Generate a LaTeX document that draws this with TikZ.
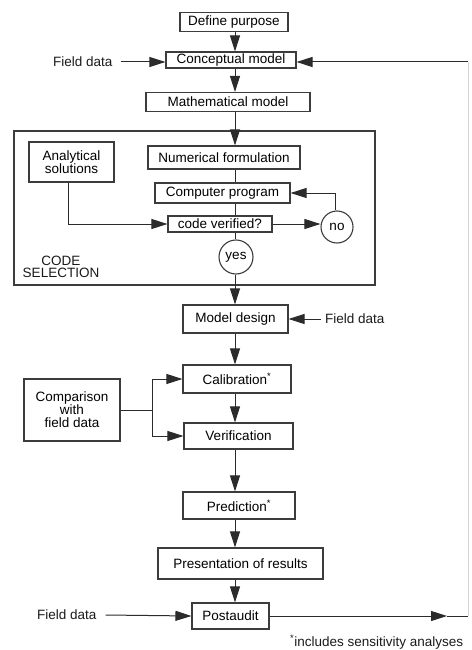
\documentclass[tikz,border=0pt]{standalone}
\usepackage{fontspec}
\setsansfont{Liberation Sans}
\usepackage{xcolor}
\usepackage{tikz}
\usetikzlibrary{shapes.geometric, arrows.meta, positioning, calc}
\definecolor{flowInk}{HTML}{1A1A1A}
\definecolor{flowLine}{HTML}{2B2B2B}
\definecolor{flowFaint}{HTML}{D4D4D4}
\tikzset{
  flow/box/.style      = {rectangle, draw=flowInk!85, line width=1.1pt, fill=white, align=center,
                          inner sep=1pt, font=\fontsize{13.5}{15}\selectfont\sffamily},
  flow/circ/.style     = {circle, draw=flowInk!85, line width=1.1pt, fill=white, inner sep=0pt,
                          font=\fontsize{13.5}{15}\selectfont\sffamily},
  flow/frame/.style    = {rectangle, draw=flowInk!85, line width=1.1pt, inner sep=0pt},
  flow/label/.style    = {font=\fontsize{13.5}{15}\selectfont\sffamily, inner sep=0pt, text=flowInk},
  flow/arrow/.style    = {-{Triangle[length=16pt,width=10pt]}, line width=1pt, draw=flowLine},
  flow/line/.style     = {line width=1pt, draw=flowLine},
  flow/faint/.style    = {line width=1pt, draw=flowFaint},
}
\begin{document}
\begin{tikzpicture}[x=1pt, y=-1pt, every node/.style={font=\sffamily}]
      \useasboundingbox (0,0) rectangle (471,650);
      \coordinate (spine) at (235,0);
      % code selection frame first, boxes sit on top of it
      \node[flow/frame, minimum width=361pt, minimum height=154pt] (codesel) at (194.5,208) {};
      \node[flow/label, align=center] (codelbl) at (61,267) {CODE\\[-3pt]SELECTION};
      % main sequence
      \node[flow/box, minimum width=108pt, minimum height=19pt] (purpose) at (234,22) {Define purpose};
      \node[flow/box, minimum width=130pt, minimum height=16pt] (concept) at (231,60) {Conceptual model};
      \node[flow/box, minimum width=164pt, minimum height=19pt] (math) at (228,102) {Mathematical model};
      \node[flow/box, minimum width=152pt, minimum height=23pt] (numer) at (224,157.5) {Numerical formulation};
      \node[flow/box, minimum width=85pt, minimum height=40pt] (analyt) at (71.5,162)
            {Analytical\\[-2pt]solutions};
      \node[flow/box, minimum width=135pt, minimum height=20pt] (comp) at (222.5,193) {Computer program};
      \node[flow/box, minimum width=104pt, minimum height=16pt] (check) at (220,224) {code verified?};
      \node[flow/circ, minimum size=32pt] (no) at (337,227) {no};
      \node[flow/circ, minimum size=34pt] (yes) at (236,257) {yes};
      \node[flow/box, minimum width=105pt, minimum height=28pt] (design) at (235.5,319) {Model design};
      \node[flow/box, minimum width=108pt, minimum height=28pt] (calib) at (237,379)
            {Calibration\textsuperscript{*}};
      \node[flow/box, minimum width=109pt, minimum height=26pt] (verif) at (238.5,436) {Verification};
      \node[flow/box, minimum width=96pt, minimum height=62pt] (compare) at (72,410)
            {Comparison\\[-2pt]with\\[-2pt]field data};
      \node[flow/box, minimum width=112pt, minimum height=27pt] (predict) at (239,505.5)
            {Prediction\textsuperscript{*}};
      \node[flow/box, minimum width=165pt, minimum height=31pt] (present) at (240.5,563.5)
            {Presentation of results};
      \node[flow/box, minimum width=77pt, minimum height=26pt] (post) at (230.5,616) {Postaudit};
      % field data inputs
      \node[flow/label, anchor=west] (fieldtop) at (53,62) {Field data};
      \node[flow/label, anchor=west] (fieldmid) at (325,319) {Field data};
      \node[flow/label, anchor=west] (fieldbot) at (37,615) {Field data};
      \node[flow/label, anchor=west] (foot) at (290,642) {\textsuperscript{*}includes sensitivity analyses};
      % helper points
      \coordinate (split) at (152,410);
      \coordinate (fbmark) at (447,616);
      \coordinate (fbcorner) at (468,616);
      \coordinate (fbtop) at (468,62);
      % arrows
      \draw[flow/arrow] (purpose.south -| spine) -- (concept.north -| spine);
      \draw[flow/arrow] (concept.south -| spine) -- (math.north -| spine);
      \draw[flow/arrow] (math.south -| spine) -- (numer.north -| spine);
      \draw[flow/line]  (numer.south -| spine) -- (comp.north -| spine);
      \draw[flow/line]  (comp.south -| spine) -- (check.north -| spine);
      \draw[flow/line]  (check.south -| spine) -- (yes.north -| spine);
      \draw[flow/arrow] (yes.south -| spine) -- (design.north -| spine);
      \draw[flow/arrow] ([xshift=-3.5pt]analyt.south) |- (check.west);
      \draw[flow/arrow] (check.east) -- (check.east -| no.west);
      \draw[flow/arrow] ([xshift=-2pt]no.north) |- (comp.east);
      \draw[flow/arrow] ([xshift=8pt]fieldtop.east) -- ([yshift=-2pt]concept.west);
      \draw[flow/arrow] ([xshift=-4pt]fieldmid.west) -- (design.east);
      \draw[flow/arrow] (design.south -| spine) -- (calib.north -| spine);
      \draw[flow/line]  (compare.east) -- (split);
      \draw[flow/arrow] (split) |- (calib.west);
      \draw[flow/arrow] (split) |- (verif.west);
      \draw[flow/arrow] (calib.south -| spine) -- (verif.north -| spine);
      \draw[flow/arrow] (verif.south -| spine) -- (predict.north -| spine);
      \draw[flow/arrow] (predict.south -| spine) -- (present.north -| spine);
      \draw[flow/arrow] (present.south -| spine) -- (post.north -| spine);
      \draw[flow/arrow] ([xshift=9pt]fieldbot.east) -- (post.west);
      % feedback from postaudit
      \draw[flow/arrow] (post.east) -- (fbmark);
      \draw[flow/line]  (fbmark) -- (fbcorner);
      \draw[flow/faint] (fbcorner) -- (fbtop);
      \draw[flow/arrow] (fbtop) -- ([yshift=-2pt]concept.east);
    \end{tikzpicture}
\end{document}
